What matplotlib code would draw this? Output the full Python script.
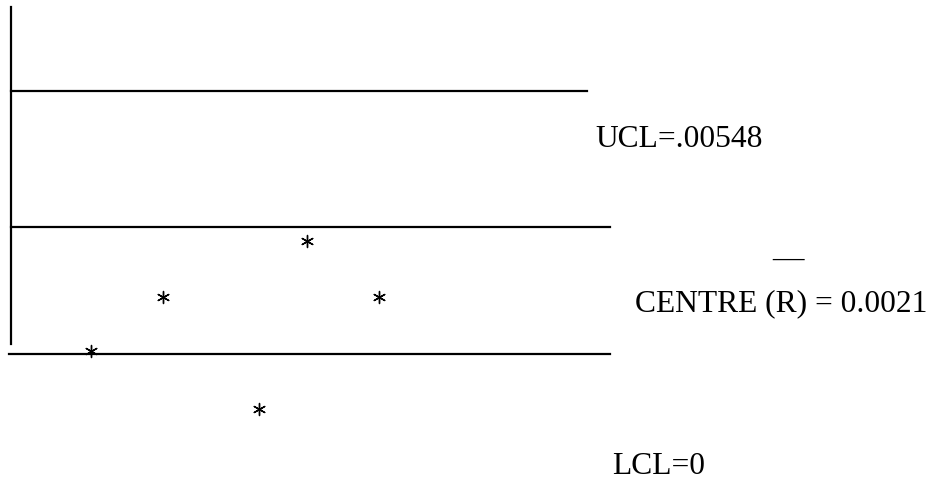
import matplotlib.pyplot as plt

# ── Control chart for the range (R chart) ───────────────────
samples = [1, 2, 3.33, 4, 5]
ranges = [0.00006, 0.00119, -0.00115, 0.00235, 0.00119]

# levels as drawn on the sketch
ucl_level = 0.00548
centre_level = 0.00265
lcl_level = 0.0

ucl_label = "UCL=.00548"
centre_label = "CENTRE (R) = 0.0021"
lcl_label = "LCL=0"

W, H = 932, 481
plt.rcParams["font.family"] = ["Liberation Serif", "DejaVu Serif"]

fig = plt.figure(figsize=(W / 100, H / 100), dpi=100)
ax = fig.add_axes([0, 0, 1, 1])
ax.set_xlim(-0.264, 12.68)
ax.set_ylim(-0.002625, 0.007397)
ax.axis("off")

# vertical axis line
ax.plot([-0.111, -0.111], [0.000208, 0.00723], color="black", lw=1.6)

# control limits
ax.plot([-0.111, 7.89], [ucl_level, ucl_level], color="black", lw=1.6)
ax.plot([-0.111, 8.21], [centre_level, centre_level], color="black", lw=1.6)
ax.plot([-0.14, 8.21], [lcl_level, lcl_level], color="black", lw=1.6)

# sample points drawn as asterisks
ax.scatter(samples, ranges, marker=(6, 2, 0), s=75, color="black",
           linewidths=1.0, zorder=3)

# labels
fs = 22.7
fig.text(595 / W, 1 - 147 / H, ucl_label, fontsize=fs, va="baseline")
fig.text(772 / W, 1 - 267 / H, "\u2014", fontsize=fs, va="baseline")
fig.text(635 / W, 1 - 311 / H, centre_label, fontsize=fs, va="baseline")
fig.text(612 / W, 1 - 474 / H, lcl_label, fontsize=fs, va="baseline")

fig.savefig("out.png", dpi=100, facecolor="white")
